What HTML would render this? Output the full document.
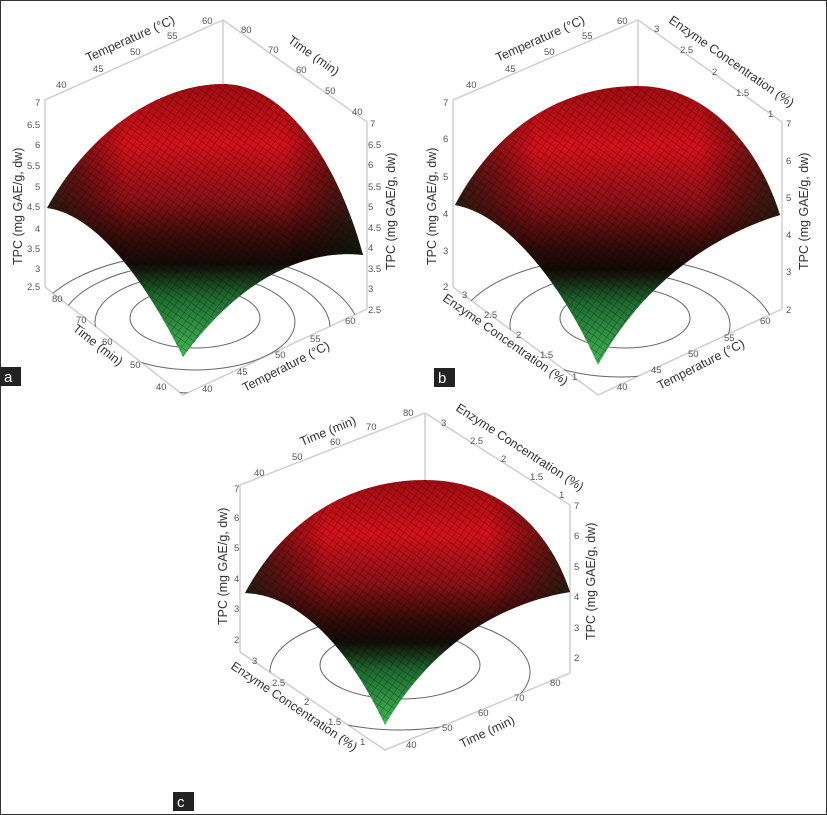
<!DOCTYPE html>
<html><head><meta charset="utf-8"><style>
body{margin:0;background:#fff}
svg{display:block}
text{font-family:"Liberation Sans",sans-serif;fill:#555}
.t{font-size:9.5px}
.ti{font-size:12.5px;fill:#333}
.fr{stroke:#cfcfcf;stroke-width:1.5;fill:none}
.ct{stroke:#666;stroke-width:1;fill:none}
</style></head><body>
<svg width="827" height="815" viewBox="0 0 827 815" xmlns="http://www.w3.org/2000/svg">
<defs>
<linearGradient id="ga" x1="0" y1="0" x2="0" y2="1">
<stop offset="0" stop-color="#a00c12"/><stop offset="0.22" stop-color="#d4101a"/><stop offset="0.42" stop-color="#8a1016"/><stop offset="0.58" stop-color="#2e0b08"/><stop offset="0.66" stop-color="#120a06"/><stop offset="0.78" stop-color="#1e6a30"/><stop offset="1" stop-color="#40b855"/>
</linearGradient>
<linearGradient id="gs" x1="0" y1="0" x2="1" y2="0">
<stop offset="0" stop-color="#0a200e" stop-opacity="0.75"/><stop offset="0.25" stop-color="#000" stop-opacity="0"/><stop offset="0.75" stop-color="#000" stop-opacity="0"/><stop offset="1" stop-color="#0a200e" stop-opacity="0.75"/>
</linearGradient>
<pattern id="mesh" width="6" height="6" patternUnits="userSpaceOnUse" patternTransform="rotate(35)">
<path d="M0 0H6M0 0V6" stroke="#000" stroke-width="0.7" opacity="0.55"/>
</pattern>
<clipPath id="fa"><polygon points="45,287 223,200 367,309 183,395"/></clipPath>
<clipPath id="fb"><polygon points="453,287 638,200 782,309 598,395"/></clipPath>
<clipPath id="fc"><polygon points="240,652 425,570 570,673 385,750"/></clipPath>
</defs>
<rect x="0.5" y="0.5" width="826" height="814" fill="none" stroke="#333"/>

<!-- Panel a -->
<g>
<path class="fr" d="M45,287V100L223,20L367,122V309M223,20V90M45,287L183,395L367,309"/>
<g clip-path="url(#fa)"><ellipse class="ct" cx="195" cy="318" rx="65" ry="30"/><ellipse class="ct" cx="195" cy="322" rx="100" ry="48"/><ellipse class="ct" cx="195" cy="328" rx="135" ry="65"/><ellipse class="ct" cx="195" cy="335" rx="165" ry="82"/></g>
<path id="sa" d="M47,208C90,130 160,84 223,84C290,84 340,170 363,255C320,250 250,265 183,357C150,290 100,215 47,208Z" fill="url(#ga)"/>
<path d="M47,208C90,130 160,84 223,84C290,84 340,170 363,255C320,250 250,265 183,357C150,290 100,215 47,208Z" fill="url(#gs)"/>
<path d="M47,208C90,130 160,84 223,84C290,84 340,170 363,255C320,250 250,265 183,357C150,290 100,215 47,208Z" fill="url(#mesh)"/>
<text class="t" x="56" y="88">40</text><text class="t" x="93" y="72">45</text><text class="t" x="130" y="55">50</text><text class="t" x="167" y="39">55</text><text class="t" x="202" y="24">60</text>
<text class="ti" transform="translate(88,62) rotate(-24)">Temperature (°C)</text>
<text class="t" x="241" y="33">80</text><text class="t" x="268" y="53">70</text><text class="t" x="296" y="73">60</text><text class="t" x="325" y="94">50</text><text class="t" x="352" y="115">40</text>
<text class="ti" transform="translate(287,42) rotate(35)">Time (min)</text>
<g class="t"><text x="35" y="106">7</text><text x="27" y="128">6.5</text><text x="35" y="148">6</text><text x="27" y="169">5.5</text><text x="35" y="190">5</text><text x="27" y="210">4.5</text><text x="35" y="232">4</text><text x="27" y="252">3.5</text><text x="35" y="272">3</text><text x="27" y="290">2.5</text></g>
<text class="ti" transform="translate(22,265) rotate(-90)">TPC (mg GAE/g, dw)</text>
<g class="t"><text x="370" y="127">7</text><text x="368" y="148">6.5</text><text x="368" y="168">6</text><text x="368" y="190">5.5</text><text x="368" y="210">5</text><text x="368" y="231">4.5</text><text x="368" y="251">4</text><text x="368" y="272">3.5</text><text x="368" y="292">3</text><text x="368" y="313">2.5</text></g>
<text class="ti" transform="translate(395,270) rotate(-90)">TPC (mg GAE/g, dw)</text>
<g class="t"><text x="52" y="302">80</text><text x="76" y="323">70</text><text x="102" y="345">60</text><text x="130" y="368">50</text><text x="156" y="390">40</text>
<text x="202" y="392">40</text><text x="237" y="375">45</text><text x="275" y="358">50</text><text x="310" y="342">55</text><text x="345" y="324">60</text></g>
<text class="ti" transform="translate(72,330) rotate(38)">Time (min)</text>
<text class="ti" transform="translate(245,392) rotate(-27)">Temperature (°C)</text>
<rect x="0" y="367" width="21" height="19" fill="#222"/><text x="4" y="382" style="font-size:15px;fill:#fff">a</text>
</g>

<!-- Panel b -->
<g>
<path class="fr" d="M453,287V100L638,20L782,122V309M638,20V90M453,287L598,395L782,309"/>
<g clip-path="url(#fb)"><ellipse class="ct" cx="625" cy="318" rx="65" ry="30"/><ellipse class="ct" cx="620" cy="325" rx="110" ry="52"/><ellipse class="ct" cx="615" cy="335" rx="160" ry="78"/></g>
<path d="M455,205C500,120 570,86 638,86C710,86 760,150 780,215C730,230 650,270 598,365C565,290 510,215 455,205Z" fill="url(#ga)"/>
<path d="M455,205C500,120 570,86 638,86C710,86 760,150 780,215C730,230 650,270 598,365C565,290 510,215 455,205Z" fill="url(#gs)"/>
<path d="M455,205C500,120 570,86 638,86C710,86 760,150 780,215C730,230 650,270 598,365C565,290 510,215 455,205Z" fill="url(#mesh)"/>
<text class="t" x="466" y="88">40</text><text class="t" x="505" y="72">45</text><text class="t" x="544" y="55">50</text><text class="t" x="582" y="39">55</text><text class="t" x="617" y="24">60</text>
<text class="ti" transform="translate(498,62) rotate(-24)">Temperature (°C)</text>
<text class="t" x="654" y="32">3</text><text class="t" x="680" y="53">2.5</text><text class="t" x="712" y="75">2</text><text class="t" x="736" y="96">1.5</text><text class="t" x="768" y="117">1</text>
<text class="ti" transform="translate(668,22) rotate(35)">Enzyme Concentration (%)</text>
<g class="t"><text x="443" y="106">7</text><text x="443" y="142">6</text><text x="443" y="180">5</text><text x="443" y="217">4</text><text x="443" y="254">3</text><text x="443" y="290">2</text></g>
<text class="ti" transform="translate(436,265) rotate(-90)">TPC (mg GAE/g, dw)</text>
<g class="t"><text x="786" y="127">7</text><text x="786" y="164">6</text><text x="786" y="201">5</text><text x="786" y="238">4</text><text x="786" y="275">3</text><text x="786" y="313">2</text></g>
<text class="ti" transform="translate(808,270) rotate(-90)">TPC (mg GAE/g, dw)</text>
<g class="t"><text x="462" y="298">3</text><text x="484" y="318">2.5</text><text x="516" y="338">2</text><text x="540" y="358">1.5</text><text x="572" y="380">1</text>
<text x="617" y="390">40</text><text x="651" y="373">45</text><text x="688" y="357">50</text><text x="724" y="341">55</text><text x="760" y="324">60</text></g>
<text class="ti" transform="translate(442,300) rotate(35)">Enzyme Concentration (%)</text>
<text class="ti" transform="translate(660,390) rotate(-27)">Temperature (°C)</text>
<rect x="434" y="368" width="21" height="19" fill="#222"/><text x="438" y="383" style="font-size:15px;fill:#fff">b</text>
</g>

<!-- Panel c -->
<g>
<path class="fr" d="M240,652V485L425,413L570,505V673M425,413V480M240,652L385,750L570,673"/>
<g clip-path="url(#fc)"><ellipse class="ct" cx="400" cy="665" rx="80" ry="34"/><ellipse class="ct" cx="400" cy="672" rx="130" ry="58"/><ellipse class="ct" cx="400" cy="680" rx="180" ry="80"/></g>
<path d="M245,593C290,510 360,480 425,480C500,480 550,530 570,592C520,600 440,630 385,725C350,650 300,595 245,593Z" fill="url(#ga)"/>
<path d="M245,593C290,510 360,480 425,480C500,480 550,530 570,592C520,600 440,630 385,725C350,650 300,595 245,593Z" fill="url(#gs)"/>
<path d="M245,593C290,510 360,480 425,480C500,480 550,530 570,592C520,600 440,630 385,725C350,650 300,595 245,593Z" fill="url(#mesh)"/>
<text class="t" x="254" y="476">40</text><text class="t" x="292" y="460">50</text><text class="t" x="330" y="445">60</text><text class="t" x="366" y="430">70</text><text class="t" x="403" y="416">80</text>
<text class="ti" transform="translate(302,446) rotate(-22)">Time (min)</text>
<text class="t" x="441" y="426">3</text><text class="t" x="470" y="444">2.5</text><text class="t" x="501" y="462">2</text><text class="t" x="530" y="480">1.5</text><text class="t" x="559" y="498">1</text>
<text class="ti" transform="translate(455,410) rotate(33)">Enzyme Concentration (%)</text>
<g class="t"><text x="234" y="492">7</text><text x="234" y="521">6</text><text x="234" y="551">5</text><text x="234" y="582">4</text><text x="234" y="612">3</text><text x="234" y="643">2</text></g>
<text class="ti" transform="translate(227,625) rotate(-90)">TPC (mg GAE/g, dw)</text>
<g class="t"><text x="574" y="509">7</text><text x="574" y="539">6</text><text x="574" y="570">5</text><text x="574" y="600">4</text><text x="574" y="631">3</text><text x="574" y="661">2</text></g>
<text class="ti" transform="translate(595,640) rotate(-90)">TPC (mg GAE/g, dw)</text>
<g class="t"><text x="252" y="664">3</text><text x="272" y="686">2.5</text><text x="304" y="705">2</text><text x="328" y="725">1.5</text><text x="360" y="745">1</text>
<text x="406" y="748">40</text><text x="442" y="731">50</text><text x="478" y="716">60</text><text x="514" y="701">70</text><text x="550" y="686">80</text></g>
<text class="ti" transform="translate(230,668) rotate(34)">Enzyme Concentration (%)</text>
<text class="ti" transform="translate(462,748) rotate(-25)">Time (min)</text>
<rect x="173" y="792" width="21" height="19" fill="#222"/><text x="177" y="807" style="font-size:15px;fill:#fff">c</text>
</g>
</svg>
</body></html>
